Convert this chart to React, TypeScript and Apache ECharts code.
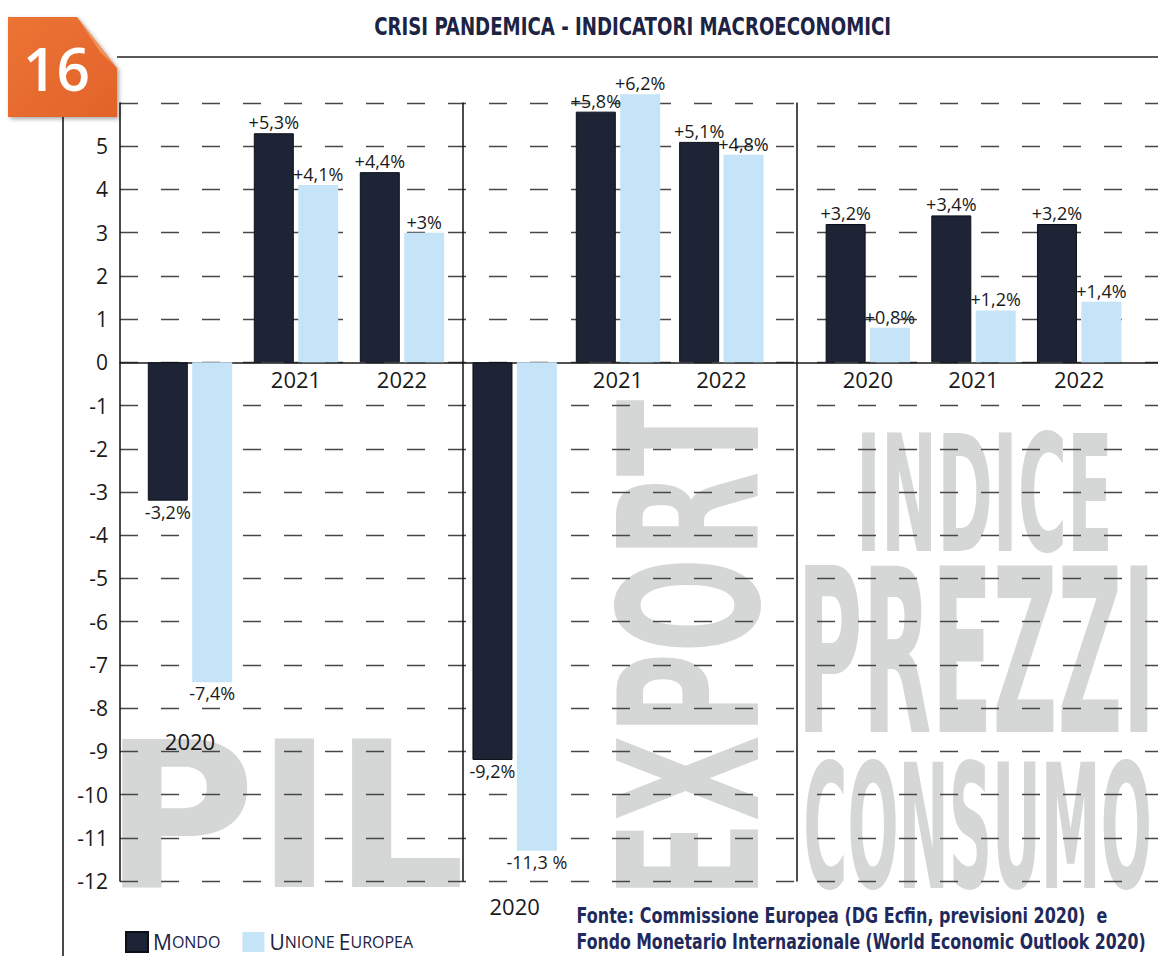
import React, { useEffect, useRef } from 'react';
import * as echarts from 'echarts';

// ---------- DATA ----------
const years = ['2020', '2021', '2022'];
const seriesNames = ['Mondo', 'Unione Europea'];
const pilMondo = [-3.2, 5.3, 4.4];
const pilUE = [-7.4, 4.1, 3.0];
const exportMondo = [-9.2, 5.8, 5.1];
const exportUE = [-11.3, 6.2, 4.8];
const prezziMondo = [3.2, 3.4, 3.2];
const prezziUE = [0.8, 1.2, 1.4];
const yMin = -12;
const yMax = 6;
const yStep = 1;
const labelOverrides: Record<string, string> = { '-11.3': '-11,3 %' };
const TITLE = 'CRISI PANDEMICA - INDICATORI MACROECONOMICI';
const PAGE_NUMBER = '16';
const SOURCE_LINES = [
  'Fonte: Commissione Europea (DG Ecfin, previsioni 2020)  e',
  'Fondo Monetario Internazionale (World Economic Outlook 2020)',
];
const WATERMARKS = ['PIL', 'EXPORT', 'INDICE', 'PREZZI', 'CONSUMO'];

// ---------- STYLE ----------
const C_MONDO = '#1d2436';
const C_UE = '#c6e4f7';
const C_TEXT = '#1a1a1a';
const C_NAVY = '#1c2344';
const C_WM = '#d5d7d7';
const SANS = '"Open Sans", "Noto Sans", sans-serif';
const NARROW = '"Liberation Sans Narrow", "DejaVu Sans Condensed", sans-serif';
const ZL = 1;

const fmt = (v: number) =>
  labelOverrides[String(v)] ?? (v > 0 ? '+' : '') + String(v).replace('.', ',') + '%';

// distance (px) of the alphabetic baseline below the SVG "central" baseline
function svgCentralShift(font: string): number {
  const NS = 'http://www.w3.org/2000/svg';
  const svg = document.createElementNS(NS, 'svg') as SVGSVGElement;
  svg.setAttribute('width', '10');
  svg.setAttribute('height', '10');
  svg.style.position = 'absolute';
  svg.style.left = '-9999px';
  svg.style.top = '0';
  const mk = (central: boolean) => {
    const t = document.createElementNS(NS, 'text') as SVGTextElement;
    t.setAttribute('x', '0');
    t.setAttribute('y', '0');
    t.style.font = font;
    if (central) t.setAttribute('dominant-baseline', 'central');
    t.textContent = 'H';
    svg.appendChild(t);
    return t;
  };
  const a = mk(false);
  const c = mk(true);
  document.body.appendChild(svg);
  let shift = 0;
  try {
    shift = c.getBBox().y - a.getBBox().y;
  } catch (e) {
    shift = 0;
  }
  document.body.removeChild(svg);
  return shift;
}

let _ctx: CanvasRenderingContext2D | null = null;
function metrics(text: string, font: string, capRef: boolean) {
  if (!_ctx) _ctx = document.createElement('canvas').getContext('2d');
  const ctx = _ctx!;
  ctx.font = font;
  ctx.textBaseline = 'alphabetic';
  ctx.textAlign = 'left';
  const m = ctx.measureText(text);
  const v = capRef ? ctx.measureText('H') : m;
  const s = svgCentralShift(font);
  return {
    l: -m.actualBoundingBoxLeft,
    r: m.actualBoundingBoxRight,
    t: s - v.actualBoundingBoxAscent,
    b: s + v.actualBoundingBoxDescent,
  };
}

function fitText(
  text: string,
  font: string,
  box: { x: number; y: number; w: number; h: number },
  opts: { fill: string; rotate?: boolean; capRef?: boolean; z?: number; zlevel?: number }
) {
  const m = metrics(text, font, !!opts.capRef);
  let sx: number, sy: number, x: number, y: number, rotation = 0;
  if (!opts.rotate) {
    sx = box.w / (m.r - m.l);
    sy = box.h / (m.b - m.t);
    x = box.x - m.l * sx;
    y = box.y - m.t * sy;
  } else {
    rotation = Math.PI / 2;
    sy = box.w / (m.b - m.t);
    sx = box.h / (m.r - m.l);
    x = box.x - sy * m.t;
    y = box.y + box.h + sx * m.l;
  }
  return {
    type: 'text',
    x,
    y,
    scaleX: sx,
    scaleY: sy,
    rotation,
    z: opts.z ?? 0,
    zlevel: opts.zlevel ?? 0,
    silent: true,
    style: {
      text,
      font,
      fill: opts.fill,
      textAlign: 'left',
      textVerticalAlign: 'middle',
      align: 'left',
      verticalAlign: 'middle',
    },
  };
}

function barSeries(name: string, values: number[], idx: number, color: string, dark: boolean) {
  return {
    type: 'bar',
    name,
    xAxisIndex: idx,
    yAxisIndex: idx,
    barWidth: 40,
    barGap: '11%',
    clip: false,
    zlevel: ZL,
    z: 3,
    itemStyle: dark ? { color, borderColor: '#0c0f18', borderWidth: 1 } : { color },
    label: {
      show: true,
      distance: 2,
      fontSize: 18,
      fontFamily: SANS,
      color: C_TEXT,
      formatter: (p: any) => fmt(p.value),
    },
    data: values.map((v) => ({ value: v, label: { position: v < 0 ? 'bottom' : 'top' } })),
  };
}

export default function App() {
  const ref = useRef<HTMLDivElement>(null);
  useEffect(() => {
    if (!ref.current) return;
    const chart = echarts.init(ref.current, undefined, { renderer: 'svg' });

    const TOP = 103;
    const H = 778;
    const zeroFromBottom = (H * (0 - yMin)) / (yMax - yMin);
    const panels = [
      { left: 137, width: 318 },
      { left: 463, width: 310 },
      { left: 815, width: 317 },
    ];

    const grids: any[] = [{ left: 120, top: TOP, width: 1040, height: H }];
    panels.forEach((p) => grids.push({ left: p.left, top: TOP, width: p.width, height: H }));

    const hiddenY = (gi: number, showLine: boolean, offset = 0) => ({
      type: 'value',
      gridIndex: gi,
      min: yMin,
      max: yMax,
      interval: yStep,
      offset,
      zlevel: ZL,
      z: 2,
      axisLine: { show: showLine, onZero: false, lineStyle: { color: '#111', width: 1.5 } },
      axisTick: { show: false },
      axisLabel: { show: false },
      splitLine: { show: false },
    });

    const yAxes: any[] = [
      {
        type: 'value',
        gridIndex: 0,
        min: yMin,
        max: yMax,
        interval: yStep,
        zlevel: ZL,
        z: 1,
        axisLine: { show: true, onZero: false, lineStyle: { color: '#111', width: 1.5 } },
        axisTick: { show: false },
        axisLabel: {
          margin: 12,
          fontSize: 21,
          fontFamily: SANS,
          color: C_TEXT,
          formatter: (v: number) => (v === yMax ? '' : String(v)),
        },
        splitLine: { show: true, lineStyle: { color: '#474747', width: 1.3, type: [18, 23] } },
      },
      hiddenY(1, false),
      hiddenY(2, true),
      hiddenY(3, true, 18),
    ];

    const yearLabel = { fontSize: 22, fontFamily: SANS, color: C_TEXT };
    const catX = (gi: number, offset: number, show: (v: string) => boolean) => ({
      type: 'category',
      gridIndex: gi,
      data: years,
      position: 'bottom',
      offset,
      zlevel: ZL,
      z: 4,
      axisLine: { show: false, onZero: false },
      axisTick: { show: false },
      axisLabel: {
        ...yearLabel,
        margin: 6,
        interval: 0,
        formatter: (v: string) => (show(v) ? v : ''),
      },
      splitLine: { show: false },
    });
    const notFirst = (v: string) => v !== years[0];
    const onlyFirst = (v: string) => v === years[0];

    const xAxes: any[] = [
      {
        type: 'value',
        gridIndex: 0,
        min: 0,
        max: 1,
        zlevel: ZL,
        z: 1,
        axisLine: { show: true, onZero: true, lineStyle: { color: '#1a1a1a', width: 1.5 } },
        axisTick: { show: false },
        axisLabel: { show: false },
        splitLine: { show: false },
      },
      catX(1, -zeroFromBottom, notFirst),
      catX(2, -zeroFromBottom, notFirst),
      catX(3, -zeroFromBottom, () => true),
      catX(1, -157, onlyFirst),
      catX(2, 8, onlyFirst),
    ];

    const wmFont = 'bold 100px "DejaVu Sans", sans-serif';
    const wmNarrow = `bold 100px ${NARROW}`;
    const wmOpts = { fill: C_WM, z: -5, zlevel: -1 };

    const graphic: any[] = [
      // watermarks (lowest layer, under the grid lines)
      fitText(WATERMARKS[0], wmFont, { x: 122, y: 738, w: 338, h: 150 }, wmOpts),
      fitText(WATERMARKS[1], wmFont, { x: 612, y: 400, w: 148, h: 488 }, { ...wmOpts, rotate: true }),
      fitText(WATERMARKS[2], wmNarrow, { x: 862, y: 430, w: 246, h: 123 }, wmOpts),
      fitText(WATERMARKS[3], wmNarrow, { x: 805, y: 566, w: 343, h: 169 }, wmOpts),
      fitText(WATERMARKS[4], wmNarrow, { x: 806, y: 758, w: 343, h: 132 }, wmOpts),
      // page frame lines
      {
        type: 'line',
        z: 20,
        zlevel: 2,
        silent: true,
        shape: { x1: 117, y1: 57, x2: 1158, y2: 57 },
        style: { stroke: '#5a5a5a', lineWidth: 2 },
      },
      {
        type: 'line',
        z: 20,
        zlevel: 2,
        silent: true,
        shape: { x1: 63, y1: 117, x2: 63, y2: 956 },
        style: { stroke: '#4a4a4a', lineWidth: 2 },
      },
      // badge
      {
        type: 'polygon',
        z: 21,
        zlevel: 2,
        silent: true,
        shape: { points: [[8, 17], [77, 17], [117, 68], [117, 117], [8, 117]] },
        style: {
          fill: {
            type: 'linear',
            x: 0,
            y: 0,
            x2: 1,
            y2: 1,
            colorStops: [
              { offset: 0, color: '#ec7434' },
              { offset: 1, color: '#e2632a' },
            ],
          },
          shadowBlur: 4,
          shadowOffsetX: 2,
          shadowOffsetY: 2,
          shadowColor: 'rgba(0,0,0,0.35)',
        },
      },
      {
        type: 'polygon',
        z: 22,
        zlevel: 2,
        silent: true,
        shape: { points: [[77, 17], [117, 68], [100, 52]] },
        style: { fill: '#f19258' },
      },
      fitText(PAGE_NUMBER, `600 100px ${SANS}`, { x: 27, y: 48, w: 61, h: 44 }, { fill: '#ffffff', z: 23, zlevel: 2 }),
      // title
      fitText(TITLE, `bold 100px ${NARROW}`, { x: 375, y: 17, w: 516, h: 18 }, { fill: C_NAVY, capRef: true, z: 20, zlevel: 2 }),
      // source
      fitText(SOURCE_LINES[0], `bold 100px ${NARROW}`, { x: 578, y: 907, w: 530, h: 16 }, { fill: '#1f2a5c', capRef: true, z: 20, zlevel: 2 }),
      fitText(SOURCE_LINES[1], `bold 100px ${NARROW}`, { x: 578, y: 934, w: 566, h: 15.5 }, { fill: '#1f2a5c', capRef: true, z: 20, zlevel: 2 }),
    ];

    const series: any[] = [
      barSeries(seriesNames[0], pilMondo, 1, C_MONDO, true),
      barSeries(seriesNames[1], pilUE, 1, C_UE, false),
      barSeries(seriesNames[0], exportMondo, 2, C_MONDO, true),
      barSeries(seriesNames[1], exportUE, 2, C_UE, false),
      barSeries(seriesNames[0], prezziMondo, 3, C_MONDO, true),
      barSeries(seriesNames[1], prezziUE, 3, C_UE, false),
    ];

    const smallCaps = (name: string) =>
      name
        .split(' ')
        .map((w) => `{b|${w[0].toUpperCase()}}{s|${w.slice(1).toUpperCase()}}`)
        .join(' ');

    chart.setOption({
      animation: false,
      backgroundColor: '#ffffff',
      grid: grids,
      xAxis: xAxes,
      yAxis: yAxes,
      series,
      legend: {
        data: seriesNames,
        left: 120,
        top: 926,
        zlevel: ZL,
        icon: 'rect',
        itemWidth: 22,
        itemHeight: 20,
        itemGap: 22,
        selectedMode: false,
        formatter: smallCaps,
        textStyle: {
          fontSize: 16,
          fontFamily: SANS,
          color: C_NAVY,
          rich: {
            b: { fontSize: 21, fontFamily: SANS, color: C_NAVY },
            s: { fontSize: 16, fontFamily: SANS, color: C_NAVY },
          },
        },
      },
      graphic: { elements: graphic },
    });

    return () => chart.dispose();
  }, []);

  return (
    <div
      ref={ref}
      style={{ position: 'absolute', left: 0, top: 0, width: 1158, height: 956, background: '#fff' }}
    />
  );
}
